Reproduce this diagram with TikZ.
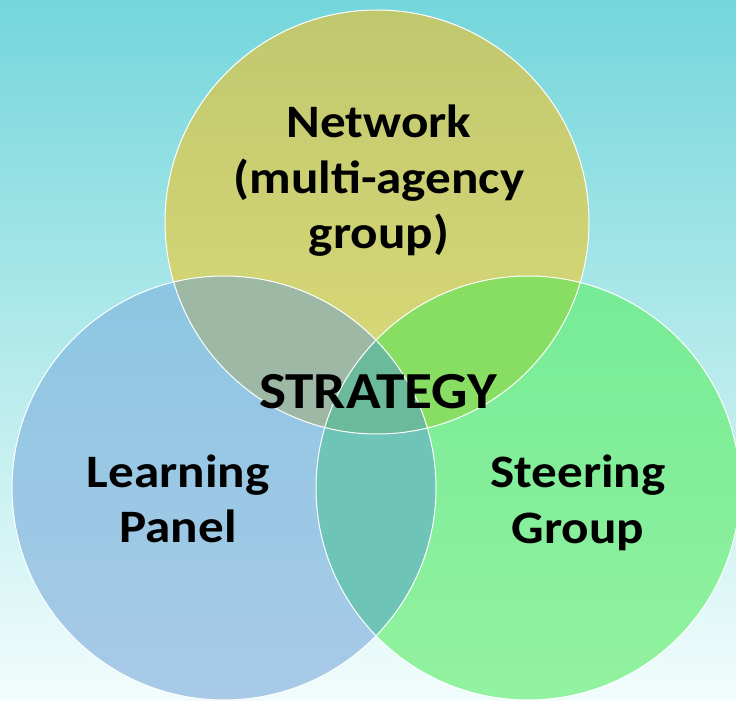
\documentclass[tikz,border=0pt]{standalone}
\usepackage{fontspec}
\setmainfont{Carlito}[FakeStretch=1.1]
\definecolor{bgtop}{HTML}{74D6DB}
\definecolor{bgmid}{HTML}{B2F0EC}
\definecolor{bgbot}{HTML}{F2FDFC}
\definecolor{nettop}{HTML}{C0C86E}
\definecolor{netbot}{HTML}{DCDB78}
\definecolor{leftop}{HTML}{8CC6E2}
\definecolor{lefbot}{HTML}{A8CAE7}
\definecolor{rigtop}{HTML}{76EB96}
\definecolor{rigbot}{HTML}{92F29F}
\definecolor{ovTL}{HTML}{9DB9A5}
\definecolor{ovTR}{HTML}{88DE62}
\definecolor{ovLR}{HTML}{6FC4B8}
\definecolor{ovAll}{HTML}{6CBA9C}
\tikzset{
  lbl/.style={font=\bfseries\fontsize{46.5}{55.5}\selectfont, align=center, text=black, inner sep=0pt},
  rim/.style={draw=white, line width=1pt}
}
\begin{document}
\begin{tikzpicture}[x=1pt,y=-1pt]
\useasboundingbox (0,0) rectangle (736,701);
\clip (0,0) rectangle (736,701);
\shade[top color=bgtop, middle color=bgmid, bottom color=bgbot] (0,0) rectangle (736,701);
\coordinate (T) at (377,222);
\coordinate (L) at (224,488);
\coordinate (R) at (528,488);
\def\rad{212}
% single circles
\shade[top color=nettop, bottom color=netbot] (T) circle (\rad);
\shade[top color=leftop, bottom color=lefbot] (L) circle (\rad);
\shade[top color=rigtop, bottom color=rigbot] (R) circle (\rad);
% pairwise overlaps
\begin{scope}
  \clip (T) circle (\rad);
  \fill[ovTL] (L) circle (\rad);
  \fill[ovTR] (R) circle (\rad);
\end{scope}
\begin{scope}
  \clip (L) circle (\rad);
  \fill[ovLR] (R) circle (\rad);
\end{scope}
\begin{scope}
  \clip (T) circle (\rad);
  \clip (L) circle (\rad);
  \fill[ovAll] (R) circle (\rad);
\end{scope}
% rims
\draw[rim] (T) circle (\rad);
\draw[rim] (L) circle (\rad);
\draw[rim] (R) circle (\rad);
% labels
\node[lbl] (net) at (379,181) {Network\\(multi-agency\\group)};
\node[lbl] (learn) at (178,499) {Learning\\Panel};
\node[lbl] (steer) at (578,503) {Steering\\Group};
\node[lbl, anchor=base, font=\bfseries\fontsize{52}{55}\selectfont] (strat) at (378,408) {STRATEGY};
\end{tikzpicture}
\end{document}
